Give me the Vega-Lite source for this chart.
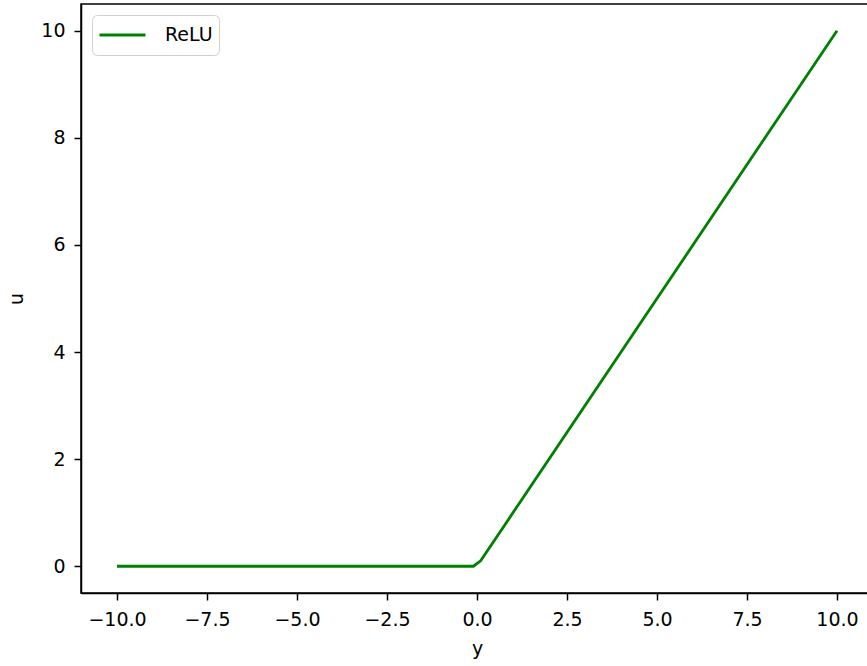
{
  "$schema": "https://vega.github.io/schema/vega-lite/v6.json",
  "autosize": {"type": "none"},
  "padding": {"left": 81, "top": 4, "right": 0, "bottom": 73},
  "width": 792,
  "height": 589,
  "background": "white",
  "config": {
    "font": "DejaVu Sans",
    "view": {"stroke": "black", "strokeWidth": 1.5},
    "axis": {
      "grid": false,
      "domainColor": "black",
      "domainWidth": 1.5,
      "tickColor": "black",
      "tickWidth": 1.5,
      "tickSize": 7,
      "labelFont": "DejaVu Sans",
      "labelFontSize": 19,
      "labelColor": "#000000",
      "titleFont": "DejaVu Sans",
      "titleFontSize": 19,
      "titleFontWeight": "normal",
      "titleColor": "#000000"
    }
  },
  "data": {
    "values": [
      {"y": -10, "u": 0, "series": "ReLU"},
      {"y": -0.101, "u": 0, "series": "ReLU"},
      {"y": 0.101, "u": 0.101, "series": "ReLU"},
      {"y": 10, "u": 10, "series": "ReLU"}
    ]
  },
  "mark": {"type": "line", "strokeWidth": 2.8, "clip": true},
  "encoding": {
    "x": {
      "field": "y",
      "type": "quantitative",
      "scale": {"domain": [-11, 11], "nice": false, "zero": false},
      "axis": {
        "title": "y",
        "values": [-10, -7.5, -5, -2.5, 0, 2.5, 5, 7.5, 10],
        "format": ".1f",
        "labelExpr": "replace(datum.label, '-', '\u2212')",
        "labelPadding": 10,
        "titlePadding": 10,
        "labelFlush": false
      }
    },
    "y": {
      "field": "u",
      "type": "quantitative",
      "scale": {"domain": [-0.5, 10.5], "nice": false, "zero": false},
      "axis": {
        "title": "u",
        "values": [0, 2, 4, 6, 8, 10],
        "format": "d",
        "labelPadding": 9,
        "titlePadding": 14,
        "labelFlush": false
      }
    },
    "color": {
      "field": "series",
      "type": "nominal",
      "scale": {"range": ["#008000"]},
      "legend": {
        "title": null,
        "orient": "none",
        "legendX": 11,
        "legendY": 11,
        "symbolType": "stroke",
        "symbolSize": 2116,
        "symbolStrokeWidth": 2.8,
        "clipHeight": 28,
        "labelFontSize": 19,
        "labelFont": "DejaVu Sans",
        "labelColor": "#000000",
        "labelOffset": 18,
        "padding": 6,
        "strokeColor": "#d0d0d0",
        "fillColor": "white",
        "cornerRadius": 5
      }
    }
  }
}
